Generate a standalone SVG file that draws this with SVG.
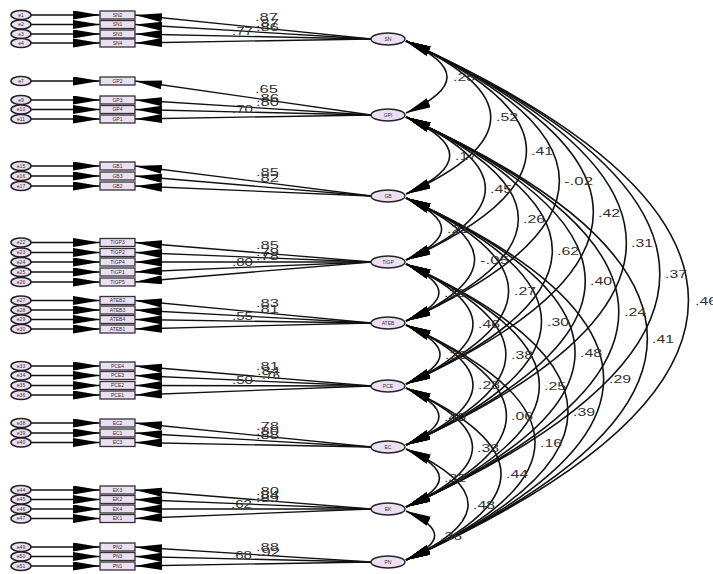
<svg xmlns="http://www.w3.org/2000/svg" width="713" height="574" viewBox="0 0 713 574">
<style>
.e{fill:#ebe0f3;stroke:#222;stroke-width:1.5}
.b{fill:#ebe0f3;stroke:#333;stroke-width:1.3}
.l{fill:#ebe0f3;stroke:#222;stroke-width:1.4}
.s{font-family:"Liberation Sans",Arial,sans-serif;font-size:5px;fill:#333;text-anchor:middle}
.n{font-family:"Liberation Sans",Arial,sans-serif;font-size:11px;fill:#333}
.c line,.c path{fill:none;stroke:#111;stroke-width:1.3}
.c .ld{marker-end:url(#ah)}
.c .cv{stroke-width:1.6;marker-start:url(#ac);marker-end:url(#ac)}
</style>
<defs>
<marker id="ah" markerUnits="userSpaceOnUse" markerWidth="28" markerHeight="10" refX="27" refY="4.5" orient="auto"><path d="M0,0 L27,4.5 L0,9 z" fill="#000"/></marker>
<marker id="ac" markerUnits="userSpaceOnUse" markerWidth="26" markerHeight="11" refX="25" refY="5" orient="auto-start-reverse"><path d="M0,0 L25,5 L0,10 z" fill="#000"/></marker>
</defs>
<rect width="713" height="574" fill="#fff"/>
<g class="c" id="connectors">
<!-- error arrows -->
<line class="ld" x1="31" y1="15" x2="100" y2="15"/><line class="ld" x1="31" y1="24.5" x2="100" y2="24.5"/><line class="ld" x1="31" y1="34" x2="100" y2="34"/><line class="ld" x1="31" y1="43" x2="100" y2="43"/>
<line class="ld" x1="31" y1="81" x2="100" y2="81"/><line class="ld" x1="31" y1="100" x2="100" y2="100"/><line class="ld" x1="31" y1="109.5" x2="100" y2="109.5"/><line class="ld" x1="31" y1="119" x2="100" y2="119"/>
<line class="ld" x1="31" y1="166" x2="100" y2="166"/><line class="ld" x1="31" y1="176" x2="100" y2="176"/><line class="ld" x1="31" y1="186" x2="100" y2="186"/>
<line class="ld" x1="31" y1="242.5" x2="100" y2="242.5"/><line class="ld" x1="31" y1="252.5" x2="100" y2="252.5"/><line class="ld" x1="31" y1="262" x2="100" y2="262"/><line class="ld" x1="31" y1="272" x2="100" y2="272"/><line class="ld" x1="31" y1="282" x2="100" y2="282"/>
<line class="ld" x1="31" y1="300.5" x2="100" y2="300.5"/><line class="ld" x1="31" y1="310" x2="100" y2="310"/><line class="ld" x1="31" y1="319.5" x2="100" y2="319.5"/><line class="ld" x1="31" y1="329" x2="100" y2="329"/>
<line class="ld" x1="31" y1="366" x2="100" y2="366"/><line class="ld" x1="31" y1="375.5" x2="100" y2="375.5"/><line class="ld" x1="31" y1="385.5" x2="100" y2="385.5"/><line class="ld" x1="31" y1="395" x2="100" y2="395"/>
<line class="ld" x1="31" y1="423" x2="100" y2="423"/><line class="ld" x1="31" y1="433" x2="100" y2="433"/><line class="ld" x1="31" y1="442.5" x2="100" y2="442.5"/>
<line class="ld" x1="31" y1="490" x2="100" y2="490"/><line class="ld" x1="31" y1="499.5" x2="100" y2="499.5"/><line class="ld" x1="31" y1="509" x2="100" y2="509"/><line class="ld" x1="31" y1="518.5" x2="100" y2="518.5"/>
<line class="ld" x1="31" y1="547" x2="100" y2="547"/><line class="ld" x1="31" y1="556.5" x2="100" y2="556.5"/><line class="ld" x1="31" y1="566" x2="100" y2="566"/>
<!-- loadings -->
<line class="ld" x1="371" y1="39" x2="135" y2="15"/><line class="ld" x1="371" y1="39" x2="135" y2="24.5"/><line class="ld" x1="371" y1="39" x2="135" y2="34"/><line class="ld" x1="371" y1="39" x2="135" y2="43"/>
<line class="ld" x1="371" y1="115" x2="135" y2="81"/><line class="ld" x1="371" y1="115" x2="135" y2="100"/><line class="ld" x1="371" y1="115" x2="135" y2="109.5"/><line class="ld" x1="371" y1="115" x2="135" y2="119"/>
<line class="ld" x1="371" y1="196" x2="135" y2="166"/><line class="ld" x1="371" y1="196" x2="135" y2="176"/><line class="ld" x1="371" y1="196" x2="135" y2="186"/>
<line class="ld" x1="371" y1="262" x2="135" y2="242.5"/><line class="ld" x1="371" y1="262" x2="135" y2="252.5"/><line class="ld" x1="371" y1="262" x2="135" y2="262"/><line class="ld" x1="371" y1="262" x2="135" y2="272"/><line class="ld" x1="371" y1="262" x2="135" y2="282"/>
<line class="ld" x1="371" y1="323" x2="135" y2="300.5"/><line class="ld" x1="371" y1="323" x2="135" y2="310"/><line class="ld" x1="371" y1="323" x2="135" y2="319.5"/><line class="ld" x1="371" y1="323" x2="135" y2="329"/>
<line class="ld" x1="371" y1="386" x2="135" y2="366"/><line class="ld" x1="371" y1="386" x2="135" y2="375.5"/><line class="ld" x1="371" y1="386" x2="135" y2="385.5"/><line class="ld" x1="371" y1="386" x2="135" y2="395"/>
<line class="ld" x1="371" y1="447" x2="135" y2="423"/><line class="ld" x1="371" y1="447" x2="135" y2="433"/><line class="ld" x1="371" y1="447" x2="135" y2="442.5"/>
<line class="ld" x1="371" y1="509" x2="135" y2="490"/><line class="ld" x1="371" y1="509" x2="135" y2="499.5"/><line class="ld" x1="371" y1="509" x2="135" y2="509"/><line class="ld" x1="371" y1="509" x2="135" y2="518.5"/>
<line class="ld" x1="371" y1="562" x2="135" y2="547"/><line class="ld" x1="371" y1="562" x2="135" y2="556.5"/><line class="ld" x1="371" y1="562" x2="135" y2="566"/>
<!-- covariances -->
<path class="cv" d="M406,41 C460.7,65.7 460.7,88.3 406,113"/>
<path class="cv" d="M406,41 C519,92 519,143 406,194"/>
<path class="cv" d="M406,41 C566.6,113.5 566.6,187.5 406,260"/>
<path class="cv" d="M406,41 C610.5,133.3 610.5,228.7 406,321"/>
<path class="cv" d="M406,41 C655.8,153.8 655.8,271.2 406,384"/>
<path class="cv" d="M406,41 C699.8,173.6 699.8,312.4 406,445"/>
<path class="cv" d="M406,41 C744.4,193.8 744.4,354.2 406,507"/>
<path class="cv" d="M406,41 C782.6,211 782.6,390 406,560"/>
<path class="cv" d="M406,117 C464.3,143.3 464.3,167.7 406,194"/>
<path class="cv" d="M406,117 C511.8,164.8 511.8,212.2 406,260"/>
<path class="cv" d="M406,117 C555.8,184.6 555.8,253.4 406,321"/>
<path class="cv" d="M406,117 C601.1,205.1 601.1,295.9 406,384"/>
<path class="cv" d="M406,117 C645,224.9 645,337.1 406,445"/>
<path class="cv" d="M406,117 C689.7,245 689.7,379 406,507"/>
<path class="cv" d="M406,117 C727.8,262.3 727.8,414.7 406,560"/>
<path class="cv" d="M406,198 C453.5,219.5 453.5,238.5 406,260"/>
<path class="cv" d="M406,198 C497.4,239.3 497.4,279.7 406,321"/>
<path class="cv" d="M406,198 C542.8,259.8 542.8,322.2 406,384"/>
<path class="cv" d="M406,198 C586.7,279.6 586.7,363.4 406,445"/>
<path class="cv" d="M406,198 C631.4,299.7 631.4,405.3 406,507"/>
<path class="cv" d="M406,198 C669.5,317 669.5,441 406,560"/>
<path class="cv" d="M406,264 C449.9,283.8 449.9,301.2 406,321"/>
<path class="cv" d="M406,264 C495.3,304.3 495.3,343.7 406,384"/>
<path class="cv" d="M406,264 C539.2,324.1 539.2,384.9 406,445"/>
<path class="cv" d="M406,264 C583.8,344.3 583.8,426.7 406,507"/>
<path class="cv" d="M406,264 C622,361.5 622,462.5 406,560"/>
<path class="cv" d="M406,325 C451.4,345.5 451.4,363.5 406,384"/>
<path class="cv" d="M406,325 C495.3,365.3 495.3,404.7 406,445"/>
<path class="cv" d="M406,325 C539.9,385.5 539.9,446.5 406,507"/>
<path class="cv" d="M406,325 C578,402.7 578,482.3 406,560"/>
<path class="cv" d="M406,388 C449.9,407.8 449.9,425.2 406,445"/>
<path class="cv" d="M406,388 C494.6,428 494.6,467 406,507"/>
<path class="cv" d="M406,388 C532.7,445.2 532.7,502.8 406,560"/>
<path class="cv" d="M406,449 C450.6,469.2 450.6,486.8 406,507"/>
<path class="cv" d="M406,449 C488.8,486.4 488.8,522.6 406,560"/>
<path class="cv" d="M406,511 C444.2,528.2 444.2,542.8 406,560"/>
</g>
<g id="errors">
<g id="e1"><ellipse class="e" cx="21" cy="15" rx="10" ry="4.6"/><text class="s" x="21" y="16.8">e1</text></g>
<g id="e2"><ellipse class="e" cx="21" cy="24.5" rx="10" ry="4.6"/><text class="s" x="21" y="26.3">e2</text></g>
<g id="e3"><ellipse class="e" cx="21" cy="34" rx="10" ry="4.6"/><text class="s" x="21" y="35.8">e3</text></g>
<g id="e4"><ellipse class="e" cx="21" cy="43" rx="10" ry="4.6"/><text class="s" x="21" y="44.8">e4</text></g>
<g id="e7"><ellipse class="e" cx="21" cy="81" rx="10" ry="4.6"/><text class="s" x="21" y="82.8">e7</text></g>
<g id="e9"><ellipse class="e" cx="21" cy="100" rx="10" ry="4.6"/><text class="s" x="21" y="101.8">e9</text></g>
<g id="e10"><ellipse class="e" cx="21" cy="109.5" rx="10" ry="4.6"/><text class="s" x="21" y="111.3">e10</text></g>
<g id="e11"><ellipse class="e" cx="21" cy="119" rx="10" ry="4.6"/><text class="s" x="21" y="120.8">e11</text></g>
<g id="e15"><ellipse class="e" cx="21" cy="166" rx="10" ry="4.6"/><text class="s" x="21" y="167.8">e15</text></g>
<g id="e16"><ellipse class="e" cx="21" cy="176" rx="10" ry="4.6"/><text class="s" x="21" y="177.8">e16</text></g>
<g id="e17"><ellipse class="e" cx="21" cy="186" rx="10" ry="4.6"/><text class="s" x="21" y="187.8">e17</text></g>
<g id="e22"><ellipse class="e" cx="21" cy="242.5" rx="10" ry="4.6"/><text class="s" x="21" y="244.3">e22</text></g>
<g id="e23"><ellipse class="e" cx="21" cy="252.5" rx="10" ry="4.6"/><text class="s" x="21" y="254.3">e23</text></g>
<g id="e24"><ellipse class="e" cx="21" cy="262" rx="10" ry="4.6"/><text class="s" x="21" y="263.8">e24</text></g>
<g id="e25"><ellipse class="e" cx="21" cy="272" rx="10" ry="4.6"/><text class="s" x="21" y="273.8">e25</text></g>
<g id="e26"><ellipse class="e" cx="21" cy="282" rx="10" ry="4.6"/><text class="s" x="21" y="283.8">e26</text></g>
<g id="e27"><ellipse class="e" cx="21" cy="300.5" rx="10" ry="4.6"/><text class="s" x="21" y="302.3">e27</text></g>
<g id="e28"><ellipse class="e" cx="21" cy="310" rx="10" ry="4.6"/><text class="s" x="21" y="311.8">e28</text></g>
<g id="e29"><ellipse class="e" cx="21" cy="319.5" rx="10" ry="4.6"/><text class="s" x="21" y="321.3">e29</text></g>
<g id="e30"><ellipse class="e" cx="21" cy="329" rx="10" ry="4.6"/><text class="s" x="21" y="330.8">e30</text></g>
<g id="e33"><ellipse class="e" cx="21" cy="366" rx="10" ry="4.6"/><text class="s" x="21" y="367.8">e33</text></g>
<g id="e34"><ellipse class="e" cx="21" cy="375.5" rx="10" ry="4.6"/><text class="s" x="21" y="377.3">e34</text></g>
<g id="e35"><ellipse class="e" cx="21" cy="385.5" rx="10" ry="4.6"/><text class="s" x="21" y="387.3">e35</text></g>
<g id="e36"><ellipse class="e" cx="21" cy="395" rx="10" ry="4.6"/><text class="s" x="21" y="396.8">e36</text></g>
<g id="e38"><ellipse class="e" cx="21" cy="423" rx="10" ry="4.6"/><text class="s" x="21" y="424.8">e38</text></g>
<g id="e39"><ellipse class="e" cx="21" cy="433" rx="10" ry="4.6"/><text class="s" x="21" y="434.8">e39</text></g>
<g id="e40"><ellipse class="e" cx="21" cy="442.5" rx="10" ry="4.6"/><text class="s" x="21" y="444.3">e40</text></g>
<g id="e44"><ellipse class="e" cx="21" cy="490" rx="10" ry="4.6"/><text class="s" x="21" y="491.8">e44</text></g>
<g id="e45"><ellipse class="e" cx="21" cy="499.5" rx="10" ry="4.6"/><text class="s" x="21" y="501.3">e45</text></g>
<g id="e46"><ellipse class="e" cx="21" cy="509" rx="10" ry="4.6"/><text class="s" x="21" y="510.8">e46</text></g>
<g id="e47"><ellipse class="e" cx="21" cy="518.5" rx="10" ry="4.6"/><text class="s" x="21" y="520.3">e47</text></g>
<g id="e49"><ellipse class="e" cx="21" cy="547" rx="10" ry="4.6"/><text class="s" x="21" y="548.8">e49</text></g>
<g id="e50"><ellipse class="e" cx="21" cy="556.5" rx="10" ry="4.6"/><text class="s" x="21" y="558.3">e50</text></g>
<g id="e51"><ellipse class="e" cx="21" cy="566" rx="10" ry="4.6"/><text class="s" x="21" y="567.8">e51</text></g>
</g>
<g id="indicators">
<g id="SN2"><rect class="b" x="100" y="11" width="35" height="8"/><text class="s" x="117.5" y="16.8">SN2</text></g>
<g id="SN1"><rect class="b" x="100" y="20.5" width="35" height="8"/><text class="s" x="117.5" y="26.3">SN1</text></g>
<g id="SN3"><rect class="b" x="100" y="30" width="35" height="8"/><text class="s" x="117.5" y="35.8">SN3</text></g>
<g id="SN4"><rect class="b" x="100" y="39" width="35" height="8"/><text class="s" x="117.5" y="44.8">SN4</text></g>
<g id="GP2"><rect class="b" x="100" y="77" width="35" height="8"/><text class="s" x="117.5" y="82.8">GP2</text></g>
<g id="GP3"><rect class="b" x="100" y="96" width="35" height="8"/><text class="s" x="117.5" y="101.8">GP3</text></g>
<g id="GP4"><rect class="b" x="100" y="105.5" width="35" height="8"/><text class="s" x="117.5" y="111.3">GP4</text></g>
<g id="GP1"><rect class="b" x="100" y="115" width="35" height="8"/><text class="s" x="117.5" y="120.8">GP1</text></g>
<g id="GB1"><rect class="b" x="100" y="162" width="35" height="8"/><text class="s" x="117.5" y="167.8">GB1</text></g>
<g id="GB3"><rect class="b" x="100" y="172" width="35" height="8"/><text class="s" x="117.5" y="177.8">GB3</text></g>
<g id="GB2"><rect class="b" x="100" y="182" width="35" height="8"/><text class="s" x="117.5" y="187.8">GB2</text></g>
<g id="TIGP3"><rect class="b" x="100" y="238.5" width="35" height="8"/><text class="s" x="117.5" y="244.3">TIGP3</text></g>
<g id="TIGP2"><rect class="b" x="100" y="248.5" width="35" height="8"/><text class="s" x="117.5" y="254.3">TIGP2</text></g>
<g id="TIGP4"><rect class="b" x="100" y="258" width="35" height="8"/><text class="s" x="117.5" y="263.8">TIGP4</text></g>
<g id="TIGP1"><rect class="b" x="100" y="268" width="35" height="8"/><text class="s" x="117.5" y="273.8">TIGP1</text></g>
<g id="TIGP5"><rect class="b" x="100" y="278" width="35" height="8"/><text class="s" x="117.5" y="283.8">TIGP5</text></g>
<g id="ATEB2"><rect class="b" x="100" y="296.5" width="35" height="8"/><text class="s" x="117.5" y="302.3">ATEB2</text></g>
<g id="ATEB3"><rect class="b" x="100" y="306" width="35" height="8"/><text class="s" x="117.5" y="311.8">ATEB3</text></g>
<g id="ATEB4"><rect class="b" x="100" y="315.5" width="35" height="8"/><text class="s" x="117.5" y="321.3">ATEB4</text></g>
<g id="ATEB1"><rect class="b" x="100" y="325" width="35" height="8"/><text class="s" x="117.5" y="330.8">ATEB1</text></g>
<g id="PCE4"><rect class="b" x="100" y="362" width="35" height="8"/><text class="s" x="117.5" y="367.8">PCE4</text></g>
<g id="PCE3"><rect class="b" x="100" y="371.5" width="35" height="8"/><text class="s" x="117.5" y="377.3">PCE3</text></g>
<g id="PCE2"><rect class="b" x="100" y="381.5" width="35" height="8"/><text class="s" x="117.5" y="387.3">PCE2</text></g>
<g id="PCE1"><rect class="b" x="100" y="391" width="35" height="8"/><text class="s" x="117.5" y="396.8">PCE1</text></g>
<g id="EC2"><rect class="b" x="100" y="419" width="35" height="8"/><text class="s" x="117.5" y="424.8">EC2</text></g>
<g id="EC1"><rect class="b" x="100" y="429" width="35" height="8"/><text class="s" x="117.5" y="434.8">EC1</text></g>
<g id="EC3"><rect class="b" x="100" y="438.5" width="35" height="8"/><text class="s" x="117.5" y="444.3">EC3</text></g>
<g id="EK3"><rect class="b" x="100" y="486" width="35" height="8"/><text class="s" x="117.5" y="491.8">EK3</text></g>
<g id="EK2"><rect class="b" x="100" y="495.5" width="35" height="8"/><text class="s" x="117.5" y="501.3">EK2</text></g>
<g id="EK4"><rect class="b" x="100" y="505" width="35" height="8"/><text class="s" x="117.5" y="510.8">EK4</text></g>
<g id="EK1"><rect class="b" x="100" y="514.5" width="35" height="8"/><text class="s" x="117.5" y="520.3">EK1</text></g>
<g id="PN2"><rect class="b" x="100" y="543" width="35" height="8"/><text class="s" x="117.5" y="548.8">PN2</text></g>
<g id="PN3"><rect class="b" x="100" y="552.5" width="35" height="8"/><text class="s" x="117.5" y="558.3">PN3</text></g>
<g id="PN1"><rect class="b" x="100" y="562" width="35" height="8"/><text class="s" x="117.5" y="567.8">PN1</text></g>
</g>
<g id="latents">
<g id="SN"><ellipse class="l" cx="388" cy="39" rx="17" ry="6"/><text class="s" x="388" y="40.8">SN</text></g>
<g id="GPI"><ellipse class="l" cx="388" cy="115" rx="17" ry="6"/><text class="s" x="388" y="116.8">GPI</text></g>
<g id="GB"><ellipse class="l" cx="388" cy="196" rx="17" ry="6"/><text class="s" x="388" y="197.8">GB</text></g>
<g id="TIGP"><ellipse class="l" cx="388" cy="262" rx="17" ry="6"/><text class="s" x="388" y="263.8">TIGP</text></g>
<g id="ATEB"><ellipse class="l" cx="388" cy="323" rx="17" ry="6"/><text class="s" x="388" y="324.8">ATEB</text></g>
<g id="PCE"><ellipse class="l" cx="388" cy="386" rx="17" ry="6"/><text class="s" x="388" y="387.8">PCE</text></g>
<g id="EC"><ellipse class="l" cx="388" cy="447" rx="17" ry="6"/><text class="s" x="388" y="448.8">EC</text></g>
<g id="EK"><ellipse class="l" cx="388" cy="509" rx="17" ry="6"/><text class="s" x="388" y="510.8">EK</text></g>
<g id="PN"><ellipse class="l" cx="388" cy="562" rx="17" ry="6"/><text class="s" x="388" y="563.8">PN</text></g>
</g>
<g id="loading-labels" lengthAdjust="spacingAndGlyphs">
<text class="n" x="255" y="21" textLength="23" lengthAdjust="spacingAndGlyphs">.87</text>
<text class="n" x="256" y="27" textLength="23" lengthAdjust="spacingAndGlyphs">.87</text>
<text class="n" x="256" y="31" textLength="23" lengthAdjust="spacingAndGlyphs">.86</text>
<text class="n" x="232" y="35" textLength="21" lengthAdjust="spacingAndGlyphs">.77</text>
<text class="n" x="255" y="93" textLength="23" lengthAdjust="spacingAndGlyphs">.65</text>
<text class="n" x="256" y="102" textLength="23" lengthAdjust="spacingAndGlyphs">.86</text>
<text class="n" x="256" y="106" textLength="23" lengthAdjust="spacingAndGlyphs">.80</text>
<text class="n" x="232" y="113" textLength="21" lengthAdjust="spacingAndGlyphs">.70</text>
<text class="n" x="256" y="176" textLength="23" lengthAdjust="spacingAndGlyphs">.85</text>
<text class="n" x="256" y="182" textLength="23" lengthAdjust="spacingAndGlyphs">.82</text>
<text class="n" x="256" y="249" textLength="23" lengthAdjust="spacingAndGlyphs">.85</text>
<text class="n" x="256" y="256" textLength="23" lengthAdjust="spacingAndGlyphs">.79</text>
<text class="n" x="256" y="260" textLength="23" lengthAdjust="spacingAndGlyphs">.78</text>
<text class="n" x="232" y="266" textLength="21" lengthAdjust="spacingAndGlyphs">.80</text>
<text class="n" x="256" y="307" textLength="23" lengthAdjust="spacingAndGlyphs">.83</text>
<text class="n" x="256" y="313" textLength="23" lengthAdjust="spacingAndGlyphs">.81</text>
<text class="n" x="232" y="320" textLength="21" lengthAdjust="spacingAndGlyphs">.55</text>
<text class="n" x="256" y="370" textLength="23" lengthAdjust="spacingAndGlyphs">.81</text>
<text class="n" x="257" y="375" textLength="23" lengthAdjust="spacingAndGlyphs">.84</text>
<text class="n" x="262" y="379" textLength="18" lengthAdjust="spacingAndGlyphs">.76</text>
<text class="n" x="232" y="384" textLength="21" lengthAdjust="spacingAndGlyphs">.50</text>
<text class="n" x="256" y="430" textLength="23" lengthAdjust="spacingAndGlyphs">.78</text>
<text class="n" x="256" y="435" textLength="23" lengthAdjust="spacingAndGlyphs">.80</text>
<text class="n" x="256" y="439" textLength="23" lengthAdjust="spacingAndGlyphs">.88</text>
<text class="n" x="256" y="495" textLength="23" lengthAdjust="spacingAndGlyphs">.80</text>
<text class="n" x="256" y="499" textLength="23" lengthAdjust="spacingAndGlyphs">.84</text>
<text class="n" x="256" y="502" textLength="23" lengthAdjust="spacingAndGlyphs">.89</text>
<text class="n" x="231" y="508" textLength="21" lengthAdjust="spacingAndGlyphs">.62</text>
<text class="n" x="256" y="551" textLength="23" lengthAdjust="spacingAndGlyphs">.88</text>
<text class="n" x="257" y="556" textLength="23" lengthAdjust="spacingAndGlyphs">.92</text>
<text class="n" x="231" y="559" textLength="21" lengthAdjust="spacingAndGlyphs">.68</text>
</g>
<g id="covariance-labels">
<text class="n" x="453" y="81" textLength="22" lengthAdjust="spacingAndGlyphs">.25</text>
<text class="n" x="496" y="121" textLength="22" lengthAdjust="spacingAndGlyphs">.52</text>
<text class="n" x="531" y="155" textLength="22" lengthAdjust="spacingAndGlyphs">.41</text>
<text class="n" x="564" y="185" textLength="29" lengthAdjust="spacingAndGlyphs">-.02</text>
<text class="n" x="598" y="217" textLength="22" lengthAdjust="spacingAndGlyphs">.42</text>
<text class="n" x="631" y="247" textLength="22" lengthAdjust="spacingAndGlyphs">.31</text>
<text class="n" x="665" y="278" textLength="22" lengthAdjust="spacingAndGlyphs">.37</text>
<text class="n" x="695" y="305" textLength="22" lengthAdjust="spacingAndGlyphs">.46</text>
<text class="n" x="455" y="160" textLength="22" lengthAdjust="spacingAndGlyphs">.17</text>
<text class="n" x="490" y="193" textLength="22" lengthAdjust="spacingAndGlyphs">.45</text>
<text class="n" x="523" y="223" textLength="22" lengthAdjust="spacingAndGlyphs">.26</text>
<text class="n" x="557" y="255" textLength="22" lengthAdjust="spacingAndGlyphs">.62</text>
<text class="n" x="590" y="285" textLength="22" lengthAdjust="spacingAndGlyphs">.40</text>
<text class="n" x="624" y="316" textLength="22" lengthAdjust="spacingAndGlyphs">.24</text>
<text class="n" x="652" y="343" textLength="22" lengthAdjust="spacingAndGlyphs">.41</text>
<text class="n" x="447" y="233" textLength="22" lengthAdjust="spacingAndGlyphs">.21</text>
<text class="n" x="480" y="264" textLength="29" lengthAdjust="spacingAndGlyphs">-.05</text>
<text class="n" x="514" y="295" textLength="22" lengthAdjust="spacingAndGlyphs">.27</text>
<text class="n" x="547" y="326" textLength="22" lengthAdjust="spacingAndGlyphs">.30</text>
<text class="n" x="580" y="357" textLength="22" lengthAdjust="spacingAndGlyphs">.48</text>
<text class="n" x="609" y="383" textLength="22" lengthAdjust="spacingAndGlyphs">.29</text>
<text class="n" x="444" y="297" textLength="22" lengthAdjust="spacingAndGlyphs">.18</text>
<text class="n" x="478" y="328" textLength="22" lengthAdjust="spacingAndGlyphs">.46</text>
<text class="n" x="511" y="359" textLength="22" lengthAdjust="spacingAndGlyphs">.38</text>
<text class="n" x="544" y="390" textLength="22" lengthAdjust="spacingAndGlyphs">.25</text>
<text class="n" x="573" y="416" textLength="22" lengthAdjust="spacingAndGlyphs">.39</text>
<text class="n" x="445" y="359" textLength="22" lengthAdjust="spacingAndGlyphs">.20</text>
<text class="n" x="478" y="389" textLength="22" lengthAdjust="spacingAndGlyphs">.28</text>
<text class="n" x="511" y="420" textLength="22" lengthAdjust="spacingAndGlyphs">.06</text>
<text class="n" x="540" y="447" textLength="22" lengthAdjust="spacingAndGlyphs">.16</text>
<text class="n" x="444" y="421" textLength="22" lengthAdjust="spacingAndGlyphs">.40</text>
<text class="n" x="477" y="452" textLength="22" lengthAdjust="spacingAndGlyphs">.33</text>
<text class="n" x="506" y="478" textLength="22" lengthAdjust="spacingAndGlyphs">.44</text>
<text class="n" x="444" y="482" textLength="22" lengthAdjust="spacingAndGlyphs">.32</text>
<text class="n" x="473" y="509" textLength="22" lengthAdjust="spacingAndGlyphs">.48</text>
<text class="n" x="440" y="540" textLength="22" lengthAdjust="spacingAndGlyphs">.36</text>
</g>
</svg>
